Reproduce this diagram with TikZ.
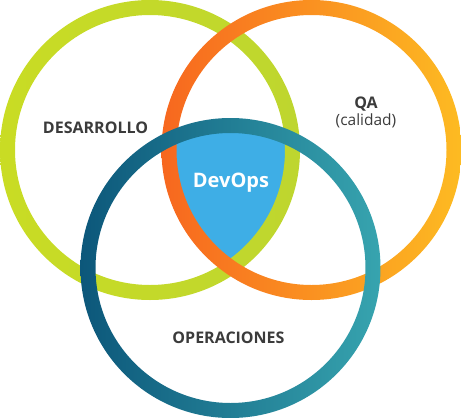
\documentclass[tikz,border=0pt]{standalone}
\usepackage{fontspec}
\setmainfont{Open Sans}
\definecolor{txtgray}{HTML}{3B3B3B}
\definecolor{grL}{HTML}{C9DC24}
\definecolor{grR}{HTML}{BED62F}
\definecolor{orL}{HTML}{F7671F}
\definecolor{orR}{HTML}{FDBB22}
\definecolor{blL}{HTML}{0C577A}
\definecolor{blR}{HTML}{37A4AF}
\definecolor{devblue}{HTML}{3EAEE6}
\tikzset{
  lbl/.style={anchor=base, inner sep=0pt, text=txtgray, font=\fontsize{16}{18}\selectfont\bfseries},
  ring/.style={even odd rule}
}
\begin{document}
\begin{tikzpicture}[x=1pt,y=-1pt]
\useasboundingbox (0,0) rectangle (461,418);
\coordinate (g) at (150,150);
\coordinate (o) at (311.5,150);
\coordinate (b) at (230.5,268);
\begin{scope}
  \clip (g) circle (142pt);
  \clip (o) circle (142pt);
  \fill[devblue] (b) circle (142pt);
\end{scope}
\path[ring, left color=grL, right color=grR] (g) circle (150pt) (g) circle (135pt);
\path[ring, left color=orL, right color=orR] (o) circle (150pt) (o) circle (135pt);
\path[ring, left color=blL, right color=blR] (b) circle (150pt) (b) circle (135pt);
\node[lbl] (dev) at (95.5,133.3) {DESARROLLO};
\node[lbl] (qa) at (366,108) {QA};
\node[lbl, font=\fontsize{15.5}{18}\selectfont] (cal) at (366,125.8) {(calidad)};
\node[lbl] (ops) at (228.5,343.3) {OPERACIONES};
\node[lbl, text=white, font=\fontsize{20}{24}\selectfont\bfseries] (devops) at (231,187.6) {DevOps};
\end{tikzpicture}
\end{document}
